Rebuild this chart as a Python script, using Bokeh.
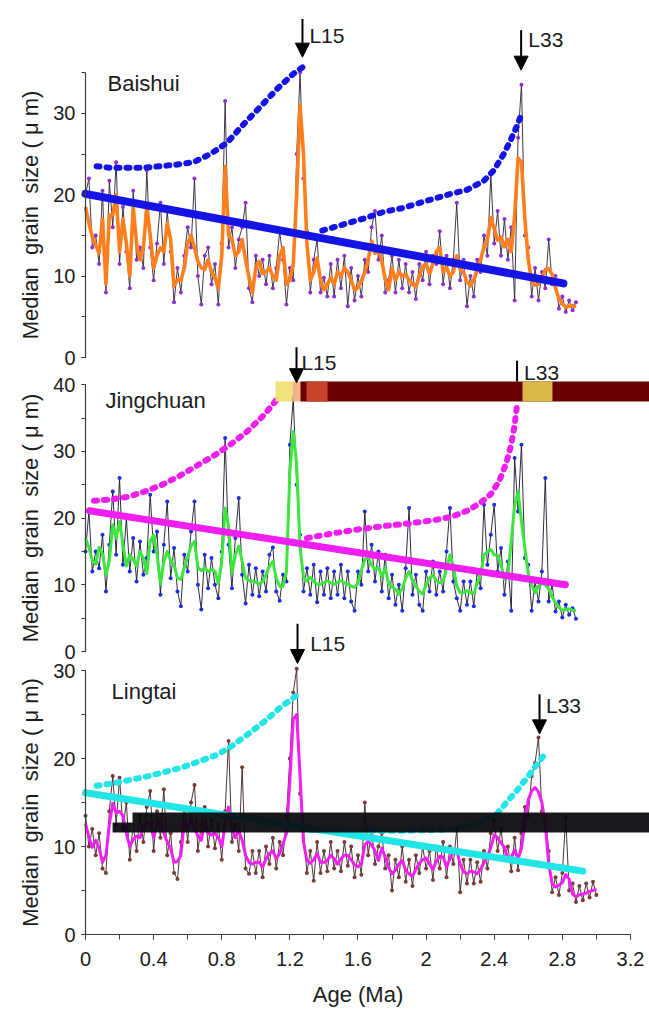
from bokeh.plotting import figure
from bokeh.models import (Range1d, LinearAxis, SingleIntervalTicker,
                          CustomJSTickFormatter, Label, Arrow, NormalHead)
from bokeh.embed import file_html
from bokeh.resources import INLINE

FONT = "Liberation Sans"
STEP = 0.02

# ---------------- Baishui ----------------
bai_raw = [20.0, 22.0, 13.5, 15.0, 11.5, 20.5, 8.0, 21.7, 16.0, 24.0,
           11.5, 18.5, 13.0, 8.5, 20.5, 12.0, 13.5, 11.0, 23.0, 13.5,
           9.5, 14.0, 19.0, 11.5, 18.0, 13.0, 6.8, 11.0, 8.0, 12.5,
           16.0, 13.5, 22.0, 10.0, 6.5, 12.5, 13.5, 9.0, 11.5, 6.5,
           14.0, 31.5, 13.5, 16.0, 11.0, 14.5, 16.0, 19.0, 8.5, 6.8,
           12.5, 10.0, 12.0, 9.0, 12.5, 8.5, 11.0, 15.5, 12.0, 6.5,
           11.0, 9.5, 25.0, 35.0, 22.0, 15.5, 8.0, 12.0, 14.5, 8.0,
           9.8, 7.5, 11.5, 7.5, 12.0, 8.5, 12.5, 6.3, 11.0, 7.0,
           10.0, 7.5, 12.0, 10.5, 16.0, 18.0, 12.0, 15.0, 8.0, 9.5,
           12.5, 8.0, 12.0, 8.5, 11.5, 8.0, 10.5, 7.2, 11.5, 9.5,
           13.0, 9.0, 12.5, 11.5, 15.5, 9.0, 12.5, 8.5, 12.0, 19.0,
           9.5, 12.0, 6.3, 10.0, 7.5, 12.0, 10.5, 15.0, 12.5, 22.5,
           14.0, 18.0, 12.5, 17.0, 12.0, 16.0, 7.0, 27.0, 33.5, 15.0,
           13.5, 7.5, 11.0, 7.0, 10.5, 8.5, 14.5, 9.0, 10.0, 6.0,
           7.5, 5.6, 7.0, 5.8, 6.8]
bai_smooth = [18.5, 16.5, 14.8, 13.8, 12.8, 17.0, 9.0, 17.5, 17.5, 20.0,
              13.0, 17.0, 14.0, 10.0, 18.5, 14.0, 12.0, 13.5, 18.5, 15.0,
              11.0, 12.5, 13.5, 13.0, 16.5, 14.5, 8.8, 9.5, 9.5, 11.0,
              14.0, 15.0, 13.5, 11.8, 11.0, 10.8, 12.0, 10.5, 9.8, 8.5,
              12.5, 23.5, 15.0, 14.5, 12.5, 13.0, 14.5, 12.0, 9.8, 8.0,
              11.0, 11.8, 10.3, 10.5, 11.0, 10.0, 9.5, 12.5, 13.5, 9.0,
              9.5, 11.5, 20.0, 31.0, 25.0, 14.0, 9.5, 10.5, 12.2, 9.5,
              8.3, 9.0, 9.8, 9.0, 10.5, 10.0, 11.0, 10.5, 9.5, 8.3,
              8.6, 9.4, 10.5, 12.0, 14.3, 12.8, 13.5, 11.8, 9.6, 8.3,
              11.0, 9.5, 10.5, 10.0, 10.2, 9.5, 9.0, 8.7, 10.0, 11.2,
              11.5, 10.3, 11.5, 13.0, 13.5, 10.5, 11.0, 10.0, 10.5, 12.5,
              10.8, 10.5, 9.3, 8.8, 9.5, 10.8, 12.0, 13.6, 14.5, 17.2,
              15.8, 14.4, 14.8, 13.6, 14.5, 13.0, 17.5, 24.5, 24.0, 17.0,
              12.0, 9.3, 8.9, 9.0, 9.8, 10.8, 10.9, 10.2, 8.5, 7.2,
              6.6, 6.2, 6.3, 6.4, 6.2]
bai_envA_age = [0.065, 0.147, 0.245, 0.342, 0.44, 0.538, 0.636, 0.734, 0.832, 0.93, 1.027, 1.125, 1.223, 1.278]
bai_envA_val = [23.5, 23.3, 23.3, 23.3, 23.5, 23.7, 24.0, 25.0, 26.4, 28.7, 30.8, 33.0, 34.9, 35.7]
bai_envB_age = [1.39, 1.458, 1.556, 1.654, 1.752, 1.85, 1.947, 2.045, 2.143, 2.241, 2.339, 2.398, 2.456, 2.496, 2.535, 2.558]
bai_envB_val = [15.6, 16.0, 16.6, 17.2, 17.9, 18.3, 18.9, 19.5, 20.1, 20.6, 21.7, 23.0, 25.0, 26.7, 28.5, 29.8]
bai_trend_age = [0.0, 2.806]
bai_trend_val = [20.1, 9.1]

# ---------------- Jingchuan ----------------
jin_raw = [15.0, 21.0, 12.0, 15.0, 12.5, 17.5, 9.0, 16.0, 24.0, 14.5,
           26.0, 13.0, 20.0, 12.0, 17.0, 10.5, 16.5, 11.5, 14.0, 23.5,
           15.0, 18.0, 8.5, 16.0, 22.5, 11.0, 15.5, 9.0, 6.8, 14.5,
           12.0, 18.0, 22.5, 10.0, 6.3, 14.5, 9.5, 14.0, 10.0, 8.0,
           15.0, 32.0, 16.0, 9.5, 17.0, 23.0, 11.5, 7.2, 13.0, 8.5,
           12.5, 8.3, 12.0, 9.0, 14.5, 15.6, 9.0, 7.6, 11.5, 10.5,
           31.0, 38.0, 25.0, 17.5, 9.0, 12.5, 8.5, 13.0, 7.4, 12.0,
           8.5, 12.5, 8.0, 12.0, 8.5, 13.0, 8.0, 12.0, 7.5, 6.1,
           12.0, 10.0, 21.0, 12.0, 16.0, 10.5, 15.0, 9.0, 14.5, 8.0,
           11.5, 7.0, 10.0, 6.1, 12.5, 21.5, 8.5, 11.5, 7.0, 6.1,
           12.0, 9.0, 13.5, 8.5, 12.0, 9.0, 15.0, 21.5, 10.5, 8.0,
           6.1, 10.5, 7.0, 10.5, 6.8, 12.0, 9.5, 22.0, 13.0, 17.5,
           22.0, 12.0, 15.5, 8.5, 13.5, 6.1, 29.0, 21.0, 31.0, 14.0,
           13.0, 6.1, 10.5, 7.5, 12.0, 26.0, 7.5, 10.0, 6.0, 7.5,
           5.1, 7.0, 5.5, 6.5, 4.9]
jin_smooth = [17.0, 15.6, 13.6, 13.1, 15.6, 14.6, 11.5, 13.5, 19.0, 17.0,
              19.5, 16.0, 12.8, 14.5, 13.8, 12.8, 15.0, 14.0, 11.7, 16.5,
              17.5, 14.5, 10.1, 13.5, 15.0, 13.6, 13.0, 11.0, 10.8, 12.6,
              14.2, 15.8, 16.5, 12.6, 12.1, 12.5, 12.0, 12.3, 12.0, 10.2,
              13.5, 21.5, 18.8, 11.8, 14.5, 15.8, 13.5, 11.0, 10.6, 10.6,
              10.4, 10.1, 10.5, 11.5, 12.8, 13.5, 11.0, 9.8, 9.8, 12.0,
              27.0, 33.0, 28.0, 15.5, 11.2, 10.6, 11.1, 10.5, 10.1, 10.1,
              10.3, 10.6, 10.3, 10.1, 10.4, 10.6, 10.3, 10.1, 9.8, 9.6,
              10.3, 12.2, 13.8, 14.0, 13.0, 12.3, 12.6, 11.2, 12.5, 10.2,
              9.7, 9.3, 8.6, 9.5, 11.0, 12.0, 10.6, 9.8, 9.0, 8.6,
              10.0, 11.0, 11.5, 10.6, 10.3, 10.5, 12.4, 14.5, 12.8, 9.8,
              8.8, 8.8, 9.1, 8.8, 8.7, 10.2, 11.5, 14.5, 15.0, 15.3,
              14.5, 14.4, 13.0, 10.8, 11.5, 16.5, 22.0, 24.0, 19.5, 15.5,
              11.5, 10.0, 8.8, 9.8, 10.2, 10.0, 9.4, 8.2, 7.3, 6.6,
              6.2, 6.3, 6.4, 6.2, 6.1]
jin_envA_age = [0.05, 0.15, 0.25, 0.35, 0.45, 0.55, 0.65, 0.75, 0.85, 0.95, 1.05, 1.13, 1.19]
jin_envA_val = [22.6, 22.8, 23.2, 24.0, 25.0, 26.3, 27.8, 29.3, 31.0, 33.0, 35.5, 38.0, 40.0]
jin_envB_age = [1.30, 1.45, 1.60, 1.75, 1.90, 2.05, 2.15, 2.25, 2.32, 2.38, 2.43, 2.47, 2.50, 2.52, 2.535]
jin_envB_val = [17.0, 17.7, 18.3, 18.8, 19.2, 19.7, 20.2, 21.2, 22.3, 23.6, 25.6, 28.2, 31.0, 34.0, 37.2]
jin_trend_age = [0.023, 2.818]
jin_trend_val = [21.1, 10.0]

# ---------------- Lingtai ----------------
lin_raw = [13.5, 10.0, 12.0, 9.0, 11.5, 7.5, 7.0, 14.0, 18.0, 12.5,
           17.8, 12.0, 15.0, 8.5, 12.5, 9.5, 13.5, 10.5, 14.5, 16.3,
           9.5, 14.0, 11.0, 16.5, 9.0, 11.5, 7.0, 6.3, 10.5, 14.5,
           10.5, 15.0, 17.0, 9.5, 12.5, 14.5, 10.0, 13.0, 9.8, 12.5,
           8.5, 14.0, 22.0, 10.5, 12.5, 9.5, 19.0, 7.5, 6.9, 9.5,
           7.0, 9.5, 6.5, 10.0, 8.0, 11.0, 7.5, 10.5, 9.0, 13.5,
           20.0, 27.5, 30.2, 16.0, 12.0, 7.0, 9.5, 6.1, 10.5, 7.0,
           9.5, 7.2, 10.5, 7.5, 9.5, 7.2, 10.5, 7.8, 10.0, 6.5,
           9.0, 6.8, 15.0, 9.0, 12.0, 8.0, 10.0, 11.5, 7.5, 9.0,
           5.0, 8.5, 6.5, 10.0, 6.0, 8.5, 5.5, 9.0, 7.0, 10.0,
           7.5, 9.5, 6.2, 10.0, 7.5, 10.5, 6.5, 10.0, 8.0, 12.0,
           4.8, 8.5, 5.8, 8.5, 5.8, 8.2, 6.0, 9.5, 7.5, 11.5,
           13.0, 9.5, 12.0, 8.5, 10.0, 7.2, 11.0, 7.3, 11.5, 14.5,
           13.5, 18.0, 19.5, 22.4, 14.0, 13.5, 9.5, 4.8, 6.5, 4.5,
           7.0, 13.3, 5.0, 5.8, 3.7, 5.5, 3.9, 5.8, 4.2, 6.0,
           4.5]
lin_smooth = [12.6, 11.1, 9.9, 10.7, 9.8, 8.2, 9.0, 12.5, 14.9, 13.8,
              14.0, 13.5, 11.5, 10.0, 10.8, 11.2, 11.0, 12.2, 12.8, 12.5,
              11.0, 12.5, 13.0, 11.5, 10.5, 9.8, 8.2, 8.3, 9.0, 12.8,
              12.0, 13.2, 12.0, 11.2, 10.7, 12.8, 11.5, 11.3, 11.5, 11.0,
              10.0, 12.5, 14.5, 12.0, 11.0, 11.8, 10.7, 9.0, 8.2, 8.0,
              8.2, 8.2, 7.7, 8.6, 9.2, 9.5, 8.6, 9.2, 10.3, 11.5,
              17.5, 24.5, 25.0, 18.0, 10.5, 8.4, 8.1, 8.5, 9.2, 8.2,
              8.2, 8.4, 9.0, 8.6, 8.0, 8.6, 9.0, 9.0, 8.5, 7.9,
              7.7, 8.0, 10.2, 10.6, 10.2, 9.5, 8.4, 9.8, 8.8, 7.6,
              6.9, 7.3, 8.0, 8.4, 7.3, 6.9, 6.6, 7.4, 8.1, 8.5,
              8.7, 8.0, 7.4, 8.3, 8.9, 8.8, 7.7, 8.6, 9.5, 9.6,
              8.0, 7.1, 6.9, 7.2, 7.1, 6.9, 7.4, 8.2, 8.8, 9.9,
              11.3, 11.0, 10.4, 9.9, 8.5, 8.8, 9.6, 8.6, 9.8, 12.8,
              15.3, 16.3, 16.7, 16.2, 15.0, 12.5, 8.0, 5.8, 5.4, 5.6,
              5.9, 6.8, 6.3, 4.6, 4.3, 4.5, 4.6, 4.7, 4.9, 5.0,
              5.2]
lin_envA_age = [0.065, 0.17, 0.27, 0.37, 0.47, 0.57, 0.67, 0.77, 0.85, 0.95, 1.05, 1.15, 1.256]
lin_envA_val = [16.9, 17.2, 17.6, 18.0, 18.5, 19.0, 19.7, 20.4, 21.3, 22.7, 24.2, 25.9, 27.4]
lin_envB_age = [1.32, 1.5, 1.7, 1.9, 2.1, 2.25, 2.35, 2.42, 2.48, 2.54, 2.60, 2.65, 2.69]
lin_envB_val = [11.9, 11.8, 11.8, 11.8, 11.9, 12.3, 13.0, 13.8, 15.2, 16.5, 18.0, 19.3, 20.3]
lin_trend_age = [0.0, 2.92]
lin_trend_val = [16.1, 7.2]

# tick labels / axis texts
y_label = "Median\u00a0 grain\u00a0 size ( \u03bc m)"
x_label = "Age (Ma)"
site_names = ["Baishui", "Jingchuan", "Lingtai"]

# ---------------- layout (pixels) ----------------
FRAME_W, FRAME_H = 649, 1010
AXIS_X = 85.0            # page x of age 0
PX_PER_MA = 170.3
# pixels per unit, and height of each panel's zero line above the frame bottom
PANEL_SCALE = {"p1": (8.14, 653.0), "p2": (6.67, 359.0), "default": (8.8, 76.0)}


def panel_range(name):
    ppu, zero = PANEL_SCALE[name]
    start = -zero / ppu
    return Range1d(start, start + FRAME_H / ppu)


x_start = -AXIS_X / PX_PER_MA
p = figure(frame_width=FRAME_W, frame_height=FRAME_H,
           x_range=Range1d(x_start, x_start + FRAME_W / PX_PER_MA), y_range=panel_range("default"),
           output_backend="svg", toolbar_location=None,
           x_axis_location=None, y_axis_location=None,
           min_border_left=0, min_border_right=0, min_border_top=0, min_border_bottom=0,
           background_fill_color="white", border_fill_color="white")
p.extra_y_ranges = {"p1": panel_range("p1"), "p2": panel_range("p2")}
p.outline_line_color = None
for g in p.grid:
    g.visible = False

AX_COLOR = "#3c3c3c"
TXT_COLOR = "#1c1c1c"


def style_axis(ax, tick_len):
    ax.axis_line_color = AX_COLOR
    ax.axis_line_width = 1.2
    ax.major_tick_line_color = AX_COLOR
    ax.minor_tick_line_color = AX_COLOR
    ax.major_tick_out = tick_len
    ax.major_tick_in = 0
    ax.minor_tick_out = tick_len
    ax.minor_tick_in = 0
    ax.major_label_text_font = FONT
    ax.major_label_text_font_size = "20px"
    ax.major_label_text_color = TXT_COLOR
    ax.axis_label_text_font = FONT
    ax.axis_label_text_font_size = "22px"
    ax.axis_label_text_font_style = "normal"
    ax.axis_label_text_color = TXT_COLOR


for name, top in (("p1", 35), ("p2", 40), ("default", 30)):
    ax = LinearAxis(y_range_name=name, fixed_location=0, bounds=(0, top),
                    ticker=SingleIntervalTicker(interval=10, num_minor_ticks=2),
                    axis_label=y_label)
    style_axis(ax, 4)
    ax.major_label_standoff = 6
    ax.axis_label_standoff = 7
    p.add_layout(ax, "left")

xa = LinearAxis(fixed_location=0, bounds=(0, 3.2),
                ticker=SingleIntervalTicker(interval=0.4, num_minor_ticks=2),
                formatter=CustomJSTickFormatter(code="return String(Math.round(tick * 10) / 10);"),
                axis_label=x_label)
style_axis(xa, 5)
xa.major_label_standoff = 12
xa.axis_label_standoff = 13
p.add_layout(xa, "below")


def draw_panel(name, raw, smooth, raw_line, raw_pt, smooth_col, smooth_w, accent, trend_w,
               trend, envA, envB):
    ages = [round(STEP * i, 2) for i in range(len(raw))]
    p.line(ages, raw, y_range_name=name, line_color=raw_line, line_width=0.9)
    p.scatter(ages, raw, y_range_name=name, size=4, fill_color=raw_pt, line_color=None)
    p.line(ages, smooth, y_range_name=name, line_color=smooth_col, line_width=smooth_w,
           line_join="round")
    p.line(trend[0], trend[1], y_range_name=name, line_color=accent, line_width=trend_w,
           line_cap="round")
    for env in (envA, envB):
        p.line(env[0], env[1], y_range_name=name, line_color=accent, line_width=6,
               line_dash="3 7", line_cap="round")


draw_panel("p1", bai_raw, bai_smooth, "#2e1e36", "#8e2fd0", "#ff7f1e", 3.6, "#1414e6", 8,
           (bai_trend_age, bai_trend_val), (bai_envA_age, bai_envA_val), (bai_envB_age, bai_envB_val))
draw_panel("p2", jin_raw, jin_smooth, "#14142e", "#1a2ee0", "#3ce63c", 3.0, "#f01ef0", 7,
           (jin_trend_age, jin_trend_val), (jin_envA_age, jin_envA_val), (jin_envB_age, jin_envB_val))
draw_panel("default", lin_raw, lin_smooth, "#3a1c1c", "#7a3b3b", "#f020f0", 3.0, "#22e6e6", 7,
           (lin_trend_age, lin_trend_val), (lin_envA_age, lin_envA_val), (lin_envB_age, lin_envB_val))

# image glitch bands that cover parts of the reference picture
glitch_left = [1.116, 1.216, 1.262, 1.298, 2.566]
glitch_right = [1.216, 1.262, 3.40, 1.421, 2.742]
glitch_color = ["#f2e27a", "#f4b48a", "#6b0000", "#c8432c", "#d9b84a"]
p.quad(left=glitch_left, right=glitch_right, bottom=[37.48] * 5, top=[40.48] * 5,
       y_range_name="p2", fill_color=glitch_color, line_color=None)
p.quad(left=[0.159, 0.276], right=[0.276, 3.40], bottom=[11.59, 11.59], top=[12.73, 13.86],
       fill_color="#08080c", fill_alpha=0.93, line_color=None)

# site names
for name, text, x, y in (("p1", site_names[0], 0.129, 33.66),
                         ("p2", site_names[1], 0.117, 37.6),
                         ("default", site_names[2], 0.153, 27.6)):
    p.add_layout(Label(x=x, y=y, y_range_name=name, text=text, text_font=FONT,
                       text_font_size="22px", text_color=TXT_COLOR,
                       text_baseline="middle", text_align="left"))


def marker(name, xa_, y0, y1, tx, ty, text, head=True):
    end = NormalHead(size=14, fill_color="black", line_color="black") if head else None
    p.add_layout(Arrow(x_start=xa_, y_start=y0, x_end=xa_, y_end=y1, y_range_name=name,
                       line_width=2, line_color="black", end=end))
    p.add_layout(Label(x=tx, y=ty, y_range_name=name, text=text, text_font=FONT,
                       text_font_size="21px", text_color=TXT_COLOR,
                       text_baseline="middle", text_align="left"))


marker("p1", 1.274, 41.6, 36.9, 1.315, 39.6, "L15")
marker("p1", 2.558, 40.2, 35.3, 2.60, 39.1, "L33")
marker("p2", 1.239, 45.6, 40.3, 1.268, 43.3, "L15")
marker("p2", 2.534, 43.6, 40.5, 2.575, 41.8, "L33", head=False)
marker("default", 1.245, 35.3, 30.8, 1.319, 33.1, "L15")
marker("default", 2.666, 27.3, 22.8, 2.704, 26.0, "L33")

open("out.html", "w").write(file_html(p, INLINE))
